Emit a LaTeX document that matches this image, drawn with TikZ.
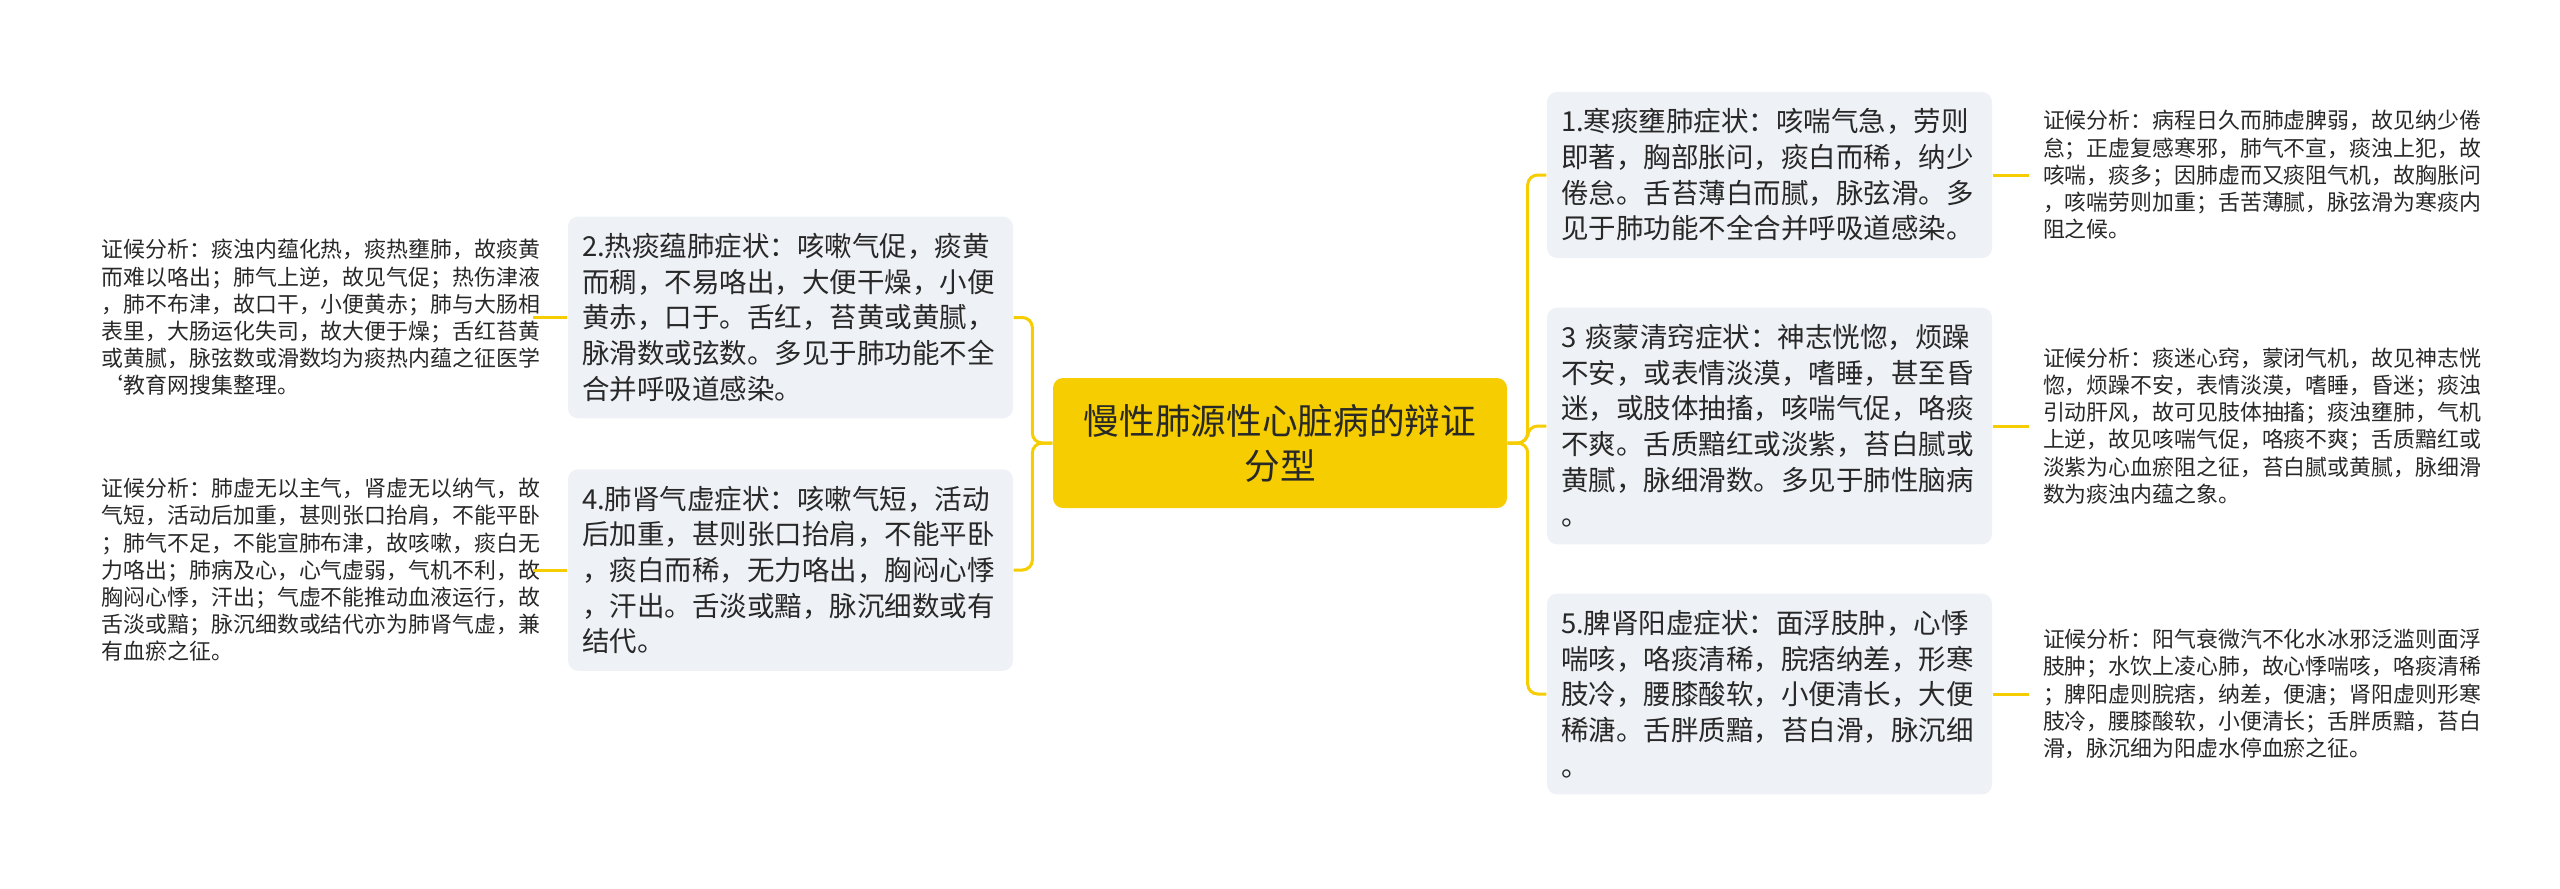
\documentclass[tikz,border=0pt]{standalone}
\usepackage{fontspec}
\setmainfont{Noto Sans CJK SC}
\usepackage{tikz}
\definecolor{mapyellow}{RGB}{245,205,0}
\definecolor{boxgray}{RGB}{238,241,245}
\definecolor{inkgray}{RGB}{40,40,40}

\begin{document}
\begin{tikzpicture}[x=0.3pt,y=-0.3pt,
    topic/.style={fill=mapyellow,rounded corners=3pt,align=center,minimum width=136.2pt,minimum height=39pt,font=\fontsize{10.7pt}{13.5pt}\selectfont,text=inkgray},
    symptom/.style={fill=boxgray,rounded corners=3pt,align=left,text width=125.1pt,inner xsep=4.2pt,inner ysep=5pt,font=\fontsize{8.25pt}{10.7pt}\selectfont,text=inkgray},
    analysis/.style={align=left,text width=125pt,inner xsep=4pt,font=\fontsize{6.57pt}{8.16pt}\selectfont,text=inkgray},
    branch/.style={draw=mapyellow,line width=0.9pt,rounded corners=3pt}]
      \useasboundingbox (0,0) rectangle (2560,888);

      \node [topic] (topic) at (1280,443) {慢性肺源性心脏病的辩证\\分型};

      \node [symptom] (n2) at (790.5,317.5) {2.热痰蕴肺症状：咳嗽气促，痰黄\\而稠，不易咯出，大便干燥，小便\\黄赤，口于。舌红，苔黄或黄腻，\\脉滑数或弦数。多见于肺功能不全\\合并呼吸道感染。};
      \node [symptom] (n4) at (790.5,570) {4.肺肾气虚症状：咳嗽气短，活动\\后加重，甚则张口抬肩，不能平卧\\，痰白而稀，无力咯出，胸闷心悸\\，汗出。舌淡或黯，脉沉细数或有\\结代。};

      \node [symptom] (n1) at (1769.5,175) {1.寒痰壅肺症状：咳喘气急，劳则\\即著，胸部胀问，痰白而稀，纳少\\倦怠。舌苔薄白而腻，脉弦滑。多\\见于肺功能不全合并呼吸道感染。};
      \node [symptom] (n3) at (1769.5,426) {3 痰蒙清窍症状：神志恍惚，烦躁\\不安，或表情淡漠，嗜睡，甚至昏\\迷，或肢体抽搐，咳喘气促，咯痰\\不爽。舌质黯红或淡紫，苔白腻或\\黄腻，脉细滑数。多见于肺性脑病\\。};
      \node [symptom] (n5) at (1769.5,694) {5.脾肾阳虚症状：面浮肢肿，心悸\\喘咳，咯痰清稀，脘痞纳差，形寒\\肢冷，腰膝酸软，小便清长，大便\\稀溏。舌胖质黯，苔白滑，脉沉细\\。};

      \node [analysis,anchor=west] (a2) at (88,317.5) {证候分析：痰浊内蕴化热，痰热壅肺，故痰黄\\而难以咯出；肺气上逆，故见气促；热伤津液\\，肺不布津，故口干，小便黄赤；肺与大肠相\\表里，大肠运化失司，故大便于燥；舌红苔黄\\或黄腻，脉弦数或滑数均为痰热内蕴之征医学\\\char"60 教育网搜集整理。};
      \node [analysis,anchor=west] (a4) at (88,570) {证候分析：肺虚无以主气，肾虚无以纳气，故\\气短，活动后加重，甚则张口抬肩，不能平卧\\；肺气不足，不能宣肺布津，故咳嗽，痰白无\\力咯出；肺病及心，心气虚弱，气机不利，故\\胸闷心悸，汗出；气虚不能推动血液运行，故\\舌淡或黯；脉沉细数或结代亦为肺肾气虚，兼\\有血瘀之征。};

      \node [analysis,anchor=west] (a1) at (2029,175) {证候分析：病程日久而肺虚脾弱，故见纳少倦\\怠；正虚复感寒邪，肺气不宣，痰浊上犯，故\\咳喘，痰多；因肺虚而又痰阻气机，故胸胀问\\，咳喘劳则加重；舌苦薄腻，脉弦滑为寒痰内\\阻之候。};
      \node [analysis,anchor=west] (a3) at (2029,426) {证候分析：痰迷心窍，蒙闭气机，故见神志恍\\惚，烦躁不安，表情淡漠，嗜睡，昏迷；痰浊\\引动肝风，故可见肢体抽搐；痰浊壅肺，气机\\上逆，故见咳喘气促，咯痰不爽；舌质黯红或\\淡紫为心血瘀阻之征，苔白腻或黄腻，脉细滑\\数为痰浊内蕴之象。};
      \node [analysis,anchor=west] (a5) at (2029,694) {证候分析：阳气衰微汽不化水冰邪泛滥则面浮\\肢肿；水饮上凌心肺，故心悸喘咳，咯痰清稀\\；脾阳虚则脘痞，纳差，便溏；肾阳虚则形寒\\肢冷，腰膝酸软，小便清长；舌胖质黯，苔白\\滑，脉沉细为阳虚水停血瘀之征。};

      \draw [branch] (topic.west) -- ++(-20,0) |- (n2.east);
      \draw [branch] (topic.west) -- ++(-20,0) |- (n4.east);
      \draw [branch] (topic.east) -- ++(20,0) |- (n1.west);
      \draw [branch] (topic.east) -- ++(20,0) |- (n3.west);
      \draw [branch] (topic.east) -- ++(20,0) |- (n5.west);

      \draw [branch] (n2.west) -- (a2.east);
      \draw [branch] (n4.west) -- (a4.east);
      \draw [branch] (n1.east) -- (a1.west);
      \draw [branch] (n3.east) -- (a3.west);
      \draw [branch] (n5.east) -- (a5.west);
    \end{tikzpicture}
\end{document}
